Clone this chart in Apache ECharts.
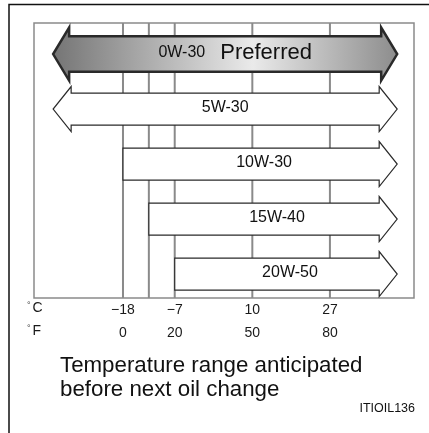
<!DOCTYPE html>
<html>
<head>
<meta charset="utf-8">
<script src="https://cdn.jsdelivr.net/npm/echarts@6/dist/echarts.min.js"></script>
<style>
  html, body { margin: 0; padding: 0; background: #fff; }
  #chart { width: 429px; height: 433px; }
</style>
</head>
<body>
<div id="chart"></div>
<script>
// Oil grades, listed top to bottom
const grades = ['0W-30', '5W-30', '10W-30', '15W-40', '20W-50'];
// Lowest temperature (°F) each grade covers; null = open-ended
const lowF = [null, null, 0, 10, 20];
// Highest temperature (°F) each grade covers; null = open-ended
const highF = [null, null, null, null, null];
// Temperature scale ticks (°F positions and their °C equivalents)
const tickF = [0, 20, 50, 80];
const tickC = ['−18', '−7', '10', '27'];
// Vertical rules at the grade boundaries and tick temperatures (°F)
const ruleF = [0, 10, 20, 50, 80];

const FONT = "'Liberation Sans', Arial, Helvetica, sans-serif";
// Where open-ended arrows put their points on the °F scale
const OPEN_LOW = -27;
const OPEN_HIGH = 106;

const chart = echarts.init(document.getElementById('chart'), null, { renderer: 'canvas' });

function arrowItem(params, api) {
  const i = params.dataIndex;
  const row = api.value(0);
  const lo = lowF[i];
  const hi = highF[i];
  const preferred = i === 0;
  const bodyH = preferred ? 17.75 : 16;
  const headH = preferred ? 26.5 : 22.5;
  const headL = preferred ? 16 : 18;

  const xL = api.coord([lo == null ? OPEN_LOW : lo, row])[0];
  const pR = api.coord([hi == null ? OPEN_HIGH : hi, row]);
  const xR = pR[0];
  const yC = pR[1];

  const pts = [];
  const xLb = lo == null ? xL + headL : xL;
  pts.push([xLb, yC - bodyH]);
  if (hi == null) {
    pts.push([xR - headL, yC - bodyH], [xR - headL, yC - headH], [xR, yC],
             [xR - headL, yC + headH], [xR - headL, yC + bodyH]);
  } else {
    pts.push([xR, yC - bodyH], [xR, yC + bodyH]);
  }
  if (lo == null) {
    pts.push([xL + headL, yC + bodyH], [xL + headL, yC + headH], [xL, yC],
             [xL + headL, yC - headH]);
  } else {
    pts.push([xL, yC + bodyH]);
  }

  const fill = preferred
    ? new echarts.graphic.LinearGradient(0, 0, 1, 0, [
        { offset: 0, color: '#747474' },
        { offset: 0.58, color: '#eaeaea' },
        { offset: 1, color: '#8c8c8c' }
      ])
    : '#ffffff';

  const label = preferred
    ? '{s|' + grades[i] + '}{g|}{b|Preferred}'
    : '{s|' + grades[i] + '}';

  // label sits a little right of centre on one-sided arrows
  const shift = preferred ? 10 : (lo == null ? 0 : 4);

  return {
    type: 'group',
    children: [
      {
        type: 'polygon',
        shape: { points: pts },
        style: {
          fill: fill,
          stroke: '#2a2a2a',
          lineWidth: preferred ? 2.5 : 1.2,
          lineJoin: 'miter'
        }
      },
      {
        type: 'text',
        style: {
          text: label,
          x: (xL + xR) / 2 + shift,
          y: yC - 1,
          align: 'center',
          verticalAlign: 'middle',
          rich: {
            s: { fontFamily: FONT, fontSize: 16, fill: '#111' },
            g: { width: 15 },
            b: { fontFamily: FONT, fontSize: 22, fill: '#111' }
          }
        }
      }
    ]
  };
}

function ruleItem(params, api) {
  const cs = params.coordSys;
  const x = api.coord([api.value(0), 0])[0];
  return {
    type: 'line',
    shape: { x1: x, y1: cs.y, x2: x, y2: cs.y + cs.height },
    style: { stroke: '#8a8a8a', lineWidth: 2 }
  };
}

const xBase = {
  type: 'value',
  gridIndex: 0,
  min: -34.4,
  max: 112.5,
  position: 'bottom',
  axisLine: { show: false },
  axisTick: { show: false },
  splitLine: { show: false }
};

const degStyle = { fontSize: 9, fill: '#444', verticalAlign: 'top', fontFamily: FONT, padding: [0, 2, 0, 0] };

chart.setOption({
  animation: false,
  backgroundColor: '#ffffff',
  grid: {
    left: 34, top: 23, width: 380, height: 275,
    show: true, borderColor: '#8a8a8a', borderWidth: 1.5,
    backgroundColor: 'transparent'
  },
  xAxis: [
    Object.assign({}, xBase, {
      axisLabel: {
        customValues: tickF,
        formatter: v => tickC[tickF.indexOf(v)],
        margin: 5, fontSize: 14, color: '#1a1a1a', fontFamily: FONT
      }
    }),
    Object.assign({}, xBase, {
      offset: 23,
      axisLabel: {
        customValues: tickF,
        formatter: v => String(v),
        margin: 5, fontSize: 14, color: '#1a1a1a', fontFamily: FONT
      }
    })
  ],
  yAxis: {
    type: 'value', min: -0.565, max: 4.435, inverse: true, show: false
  },
  series: [
    {
      type: 'custom',
      name: 'rules',
      xAxisIndex: 0,
      z: 1,
      silent: true,
      renderItem: ruleItem,
      data: ruleF.map(f => [f])
    },
    {
      type: 'custom',
      name: 'grades',
      xAxisIndex: 0,
      z: 2,
      silent: true,
      renderItem: arrowItem,
      encode: { x: -1, y: 0 },
      data: grades.map((g, i) => [i])
    }
  ],
  graphic: [
    {
      type: 'polyline',
      shape: { points: [[9, 433], [9, 4.5], [429, 4.5]] },
      style: { stroke: '#111', lineWidth: 1.5, fill: null }
    },
    {
      type: 'text', left: 27, top: 301,
      style: {
        text: '{d|°}C',
        rich: { d: degStyle },
        fontSize: 14, fill: '#1a1a1a', fontFamily: FONT
      }
    },
    {
      type: 'text', left: 27, top: 324,
      style: {
        text: '{d|°}F',
        rich: { d: degStyle },
        fontSize: 14, fill: '#1a1a1a', fontFamily: FONT
      }
    },
    {
      type: 'text', left: 60, top: 354,
      style: {
        text: 'Temperature range anticipated\nbefore next oil change',
        fontSize: 22.3, lineHeight: 24, fill: '#111', fontFamily: FONT
      }
    },
    {
      type: 'text', right: 14, top: 402,
      style: {
        text: 'ITIOIL136',
        fontSize: 12.5, fill: '#111', fontFamily: FONT
      }
    }
  ]
});
</script>
</body>
</html>
